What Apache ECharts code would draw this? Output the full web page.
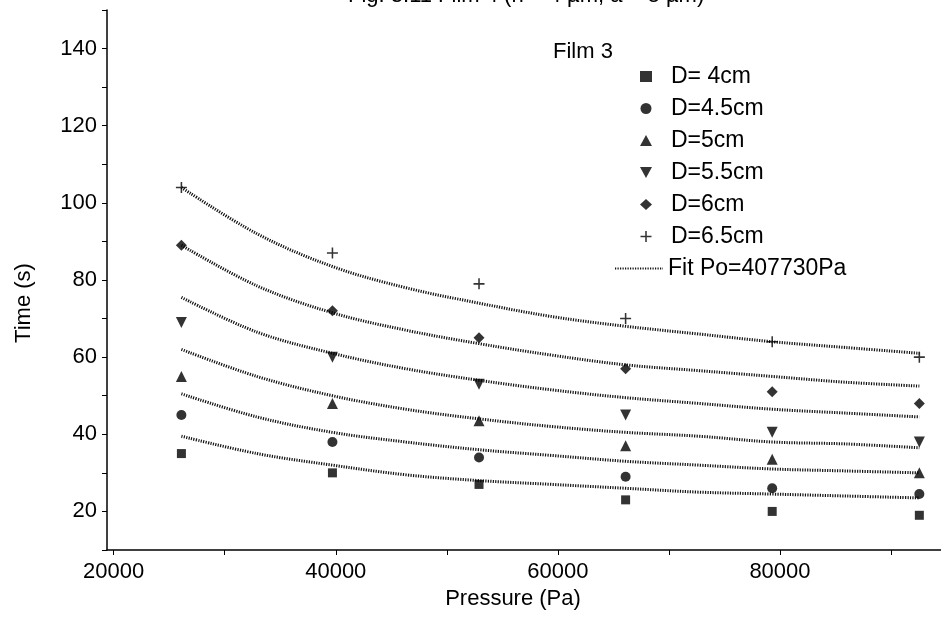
<!DOCTYPE html>
<html>
<head>
<meta charset="utf-8">
<script src="https://cdn.jsdelivr.net/npm/echarts@6/dist/echarts.min.js"></script>
<style>html,body{margin:0;padding:0;background:#fff}#c{width:941px;height:639px}</style>
</head>
<body>
<div id="c"></div>
<script>
// Pressure (Pa) of the measured points
const pressure = [26100, 39700, 52900, 66100, 79300, 92550];
// Measured times (s)
const seriesNames = ['D= 4cm', 'D=4.5cm', 'D=5cm', 'D=5.5cm', 'D=6cm', 'D=6.5cm'];
const d40 = [35, 30, 27, 23, 20, 19];
const d45 = [45, 38, 34, 29, 26, 24.5];
const d50 = [55, 48, 43.5, 37, 33.5, 30];
const d55 = [69, 60, 53, 45, 40.5, 38];
const d60 = [89, 72, 65, 57, 51, 48];
const d65 = [104, 87, 79, 70, 64, 60];
const fitName = 'Fit Po=407730Pa';
const fitPressure = [26100, 32900, 39700, 46300, 52900, 59500, 66100, 72700, 79300, 85900, 92550];
const fit40 = [39.5, 35, 32, 29.5, 28, 27, 26, 25, 24.5, 24, 23.5];
const fit45 = [50.5, 44.5, 40.5, 38, 36, 34.5, 33, 32, 31, 30.5, 30];
const fit50 = [62, 55, 50, 46.5, 44, 42, 40.5, 39.5, 38, 37.5, 36.5];
const fit55 = [75.5, 66.5, 61, 57, 54, 51.5, 49.5, 48, 46.5, 45.5, 44.5];
const fit60 = [89, 78.5, 71.5, 67, 63.5, 60.5, 58, 56.5, 55, 53.5, 52.5];
const fit65 = [104, 92, 83.5, 78, 74, 70.5, 68, 66, 64, 62.5, 61];
// Axis ticks and tick labels
const xTicks = [20000, 30000, 40000, 50000, 60000, 70000, 80000, 90000];
const xLabels = [20000, 40000, 60000, 80000];
const yLabels = [20, 40, 60, 80, 100, 120, 140];

const measured = [d40, d45, d50, d55, d60, d65];
const fits = [fit40, fit45, fit50, fit55, fit60, fit65];
const symbols = [
  'rect',
  'circle',
  'triangle',
  'path://M0,0 L10,0 L5,9 Z',
  'diamond',
  'path://M4.3,0H5.7V4.3H10V5.7H5.7V10H4.3V5.7H0V4.3H4.3Z'
];
const sizes = [9, 10, 11, 11, 11, 11];
const font = 'Liberation Sans, Arial, sans-serif';

const series = [];
fits.forEach(f => {
  series.push({
    name: fitName, type: 'line', smooth: 0.35, symbol: 'none',
    data: f.map((v, i) => [fitPressure[i], v]),
    itemStyle: { color: '#111' },
    lineStyle: { color: '#111', width: 3, type: [1.2, 1.3] }, z: 2, silent: true
  });
});
measured.forEach((m, i) => {
  series.push({
    name: seriesNames[i], type: 'scatter', symbol: symbols[i],
    data: m.map((v, j) => [pressure[j], v]),
    symbolSize: sizes[i], itemStyle: { color: '#000' }, z: 3
  });
});

const chart = echarts.init(document.getElementById('c'));
chart.setOption({
  animation: false,
  backgroundColor: '#fff',
  title: {
    text: 'Film 3', left: 548, top: 36,
    textStyle: { fontFamily: font, fontSize: 22, fontWeight: 'normal', color: '#000' }
  },
  graphic: [{
    type: 'text', left: 348, top: -15,
    style: { text: 'Fig. 3.11 Film 4 (h = 4 µm, a = 8 µm)', font: '22px ' + font, fill: '#000' }
  }],
  legend: [{
    data: seriesNames, orient: 'vertical', left: 635, top: 59,
    itemWidth: 12, itemHeight: 11, itemGap: 7,
    textStyle: { fontFamily: font, fontSize: 23, color: '#000', lineHeight: 25, padding: [0, 0, 0, 14] }
  }, {
    data: [fitName], orient: 'vertical', left: 609, top: 251,
    itemWidth: 48, itemHeight: 11,
    itemStyle: { opacity: 0 },
    textStyle: { fontFamily: font, fontSize: 23, color: '#000', lineHeight: 25 }
  }],
  grid: { left: 107, right: 0, top: 10, bottom: 89 },
  xAxis: {
    type: 'value', min: 19400, max: 94500,
    name: 'Pressure (Pa)', nameLocation: 'middle', nameGap: 36,
    nameTextStyle: { fontFamily: font, fontSize: 22, color: '#000', padding: [0, 22, 0, 0] },
    axisLine: { lineStyle: { color: '#000', width: 1.5 } },
    axisTick: { show: true, length: 5, lineStyle: { color: '#000' }, customValues: xTicks },
    splitLine: { show: false },
    axisLabel: {
      fontFamily: font, fontSize: 22, color: '#000', margin: 11,
      customValues: xLabels,
      formatter: v => String(v)
    }
  },
  yAxis: {
    type: 'value', min: 10, max: 150, interval: 10,
    name: 'Time (s)', nameLocation: 'middle', nameGap: 72,
    nameTextStyle: { fontFamily: font, fontSize: 22, color: '#000', padding: [0, 46, 0, 0] },
    axisLine: { show: true, lineStyle: { color: '#000', width: 1.5 } },
    axisTick: { show: true, length: 5, lineStyle: { color: '#000' } },
    splitLine: { show: false },
    axisLabel: {
      fontFamily: font, fontSize: 22, color: '#000', margin: 10,
      formatter: v => (yLabels.indexOf(v) >= 0 ? String(v) : '')
    }
  },
  series: series
});
</script>
</body>
</html>
